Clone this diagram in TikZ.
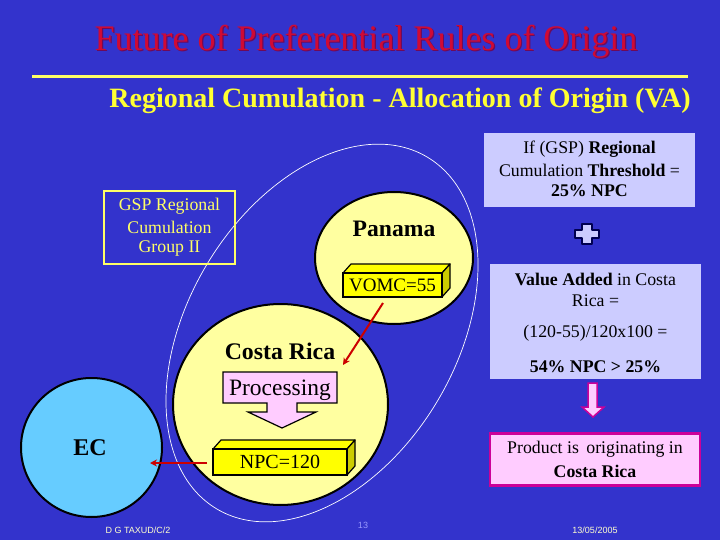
\documentclass[tikz,border=0pt]{standalone}
\usepackage{fontspec}
\setmainfont{Liberation Serif}
\newfontfamily\sansf{Liberation Sans}
\usetikzlibrary{arrows.meta,shapes.geometric}
\definecolor{bg}{RGB}{51,51,204}
\definecolor{titlered}{RGB}{208,10,52}
\definecolor{titleshadow}{RGB}{110,10,90}
\definecolor{subyellow}{RGB}{255,255,51}
\definecolor{lineyellow}{RGB}{255,255,102}
\definecolor{paleyellow}{RGB}{255,255,160}
\definecolor{ecblue}{RGB}{102,204,255}
\definecolor{baryellow}{RGB}{255,255,0}
\definecolor{barside}{RGB}{204,204,0}
\definecolor{lav}{RGB}{204,204,255}
\definecolor{pinkfill}{RGB}{255,204,255}
\definecolor{magentaedge}{RGB}{204,0,153}
\definecolor{arrowred}{RGB}{204,0,0}
\definecolor{footyellow}{RGB}{255,255,204}
\definecolor{footblue}{RGB}{153,153,255}
\definecolor{crossedge}{RGB}{0,0,80}
\tikzset{
  country/.style={draw=black, line width=2pt, ellipse, inner sep=0pt},
  bartop/.style={fill=baryellow, draw=black, line width=1.2pt, line join=round},
  barside/.style={fill=barside, draw=black, line width=1.2pt, line join=round},
  redarrow/.style={draw=arrowred, line width=2pt, -{Stealth[length=7pt,width=7pt]}},
  lavbox/.style={fill=lav, inner sep=0pt},
  txt16/.style={font=\fontsize{17.8}{21}\selectfont, inner sep=0pt},
  foot/.style={font=\sansf\fontsize{9}{10}\selectfont, inner sep=0pt},
  titlefont/.style={font=\fontsize{36}{40}\selectfont, inner sep=0pt},
}
\begin{document}
\begin{tikzpicture}[x=1pt,y=-1pt]
\fill[bg] (0,0) rectangle (720,540);
\useasboundingbox (0,0) rectangle (720,540);

% title and rule
\node[titlefont, text=titleshadow] (titlesh) at (367.2,43.2) {Future of Preferential Rules of Origin};
\node[titlefont, text=titlered] (title) at (366,42) {Future of Preferential Rules of Origin};
\draw[lineyellow, line width=3pt] (32,77) -- (688,77);
\node[text=subyellow, font=\bfseries\fontsize{28}{32}\selectfont, inner sep=0pt] (subtitle) at (400,101) {Regional Cumulation - Allocation of Origin (VA)};

% group ellipse
\draw[white, line width=0.7pt, rotate around={59:(322,333)}] (322,333) ellipse [x radius=205pt, y radius=134pt];

% GSP box
\node[draw=lineyellow, line width=2pt, minimum width=131pt, minimum height=73pt, inner sep=0pt] (gsp) at (169.5,227.5) {};
\node[txt16, text=lineyellow] (gsp1) at (169.5,206) {GSP Regional};
\node[txt16, text=lineyellow] (gsp2) at (169.5,227) {Cumulation};
\node[txt16, text=lineyellow] (gsp3) at (169.5,249) {Group II};

% countries
\node[country, fill=paleyellow, minimum width=158pt, minimum height=132pt] (panama) at (394,258) {};
\node[country, fill=paleyellow, minimum width=215pt, minimum height=201pt] (costarica) at (280.5,404.5) {};
\node[country, fill=ecblue, minimum width=141pt, minimum height=139pt] (ec) at (91.5,447.5) {};

\node[font=\bfseries\fontsize{23.6}{26}\selectfont, inner sep=0pt] (panamalbl) at (394,229) {Panama};
\node[font=\bfseries\fontsize{23.8}{26}\selectfont, inner sep=0pt] (crlbl) at (280,351) {Costa Rica};
\node[font=\bfseries\fontsize{24}{26}\selectfont, inner sep=0pt] (eclbl) at (90,448) {EC};

% VOMC bar
\path[bartop] (343,273) -- (351,264) -- (450,264) -- (442,273) -- cycle;
\path[barside] (442,273) -- (450,264) -- (450,288) -- (442,297) -- cycle;
\node[fill=baryellow, draw=black, line width=1.2pt, minimum width=99pt, minimum height=24pt, inner sep=0pt, font=\fontsize{19}{21}\selectfont] (vomc) at (392.5,285) {VOMC=55};

% NPC bar
\path[bartop] (213,449) -- (221,440) -- (355,440) -- (347,449) -- cycle;
\path[barside] (347,449) -- (355,440) -- (355,466) -- (347,475) -- cycle;
\node[fill=baryellow, draw=black, line width=1.2pt, minimum width=134pt, minimum height=26pt, inner sep=0pt, font=\fontsize{20}{22}\selectfont] (npc) at (280,462) {NPC=120};

% processing arrow
\path[fill=pinkfill, draw=black, line width=1.2pt, line join=miter]
  (223,372) -- (337,372) -- (337,403) -- (297,403) -- (297,412) -- (316,412)
  -- (282,428) -- (248,412) -- (267,412) -- (267,403) -- (223,403) -- cycle;
\node[font=\fontsize{23.5}{26}\selectfont, inner sep=0pt] (proc) at (280,390) {Processing};

% red arrows
\coordinate (r1s) at (383,303);
\coordinate (r1e) at (343,365);
\draw[redarrow] (r1s) -- (r1e);
\coordinate (r2s) at (207,463);
\coordinate (r2e) at (150,463);
\draw[redarrow] (r2s) -- (r2e);

% right column
\node[lavbox, minimum width=211pt, minimum height=74pt] (thr) at (589.5,170) {};
\node[txt16] (thr1) at (589.5,149) {If (GSP) \textbf{Regional}};
\node[txt16] (thr2) at (589.5,170) {Cumulation \textbf{Threshold} =};
\node[txt16] (thr3) at (589.5,191) {\textbf{25\% NPC}};

\path[fill=lav, draw=crossedge, line width=1.5pt, line join=round]
  (582,224) -- (592,224) -- (592,230) -- (599,230) -- (599,238) -- (592,238)
  -- (592,244) -- (582,244) -- (582,238) -- (575,238) -- (575,230) -- (582,230) -- cycle;

\node[lavbox, minimum width=211pt, minimum height=115pt] (va) at (595.5,321.5) {};
\node[txt16] (va1) at (595.5,279) {\textbf{Value Added} in Costa};
\node[txt16] (va2) at (595.5,301) {Rica =};
\node[txt16] (va3) at (595.5,333) {(120-55)/120x100 =};
\node[txt16] (va4) at (595.5,367) {\textbf{54\% NPC > 25\%}};

\path[fill=pinkfill, draw=magentaedge, line width=1.5pt, line join=miter]
  (588,383) -- (597,383) -- (597,407) -- (604,407) -- (593,417) -- (582,407) -- (588,407) -- cycle;

\node[fill=pinkfill, draw=magentaedge, line width=2.5pt, minimum width=210pt, minimum height=52pt, inner sep=0pt] (orig) at (595,459.5) {};
\node[txt16] (orig1) at (595,449) {Product is\, originating in};
\node[txt16] (orig2) at (595,471) {\textbf{Costa Rica}};

% footer
\node[foot, text=footyellow] (f1) at (138,530) {D G TAXUD/C/2};
\node[foot, text=footblue] (f2) at (363,525) {13};
\node[foot, text=footyellow] (f3) at (595,530) {13/05/2005};
\end{tikzpicture}
\end{document}
